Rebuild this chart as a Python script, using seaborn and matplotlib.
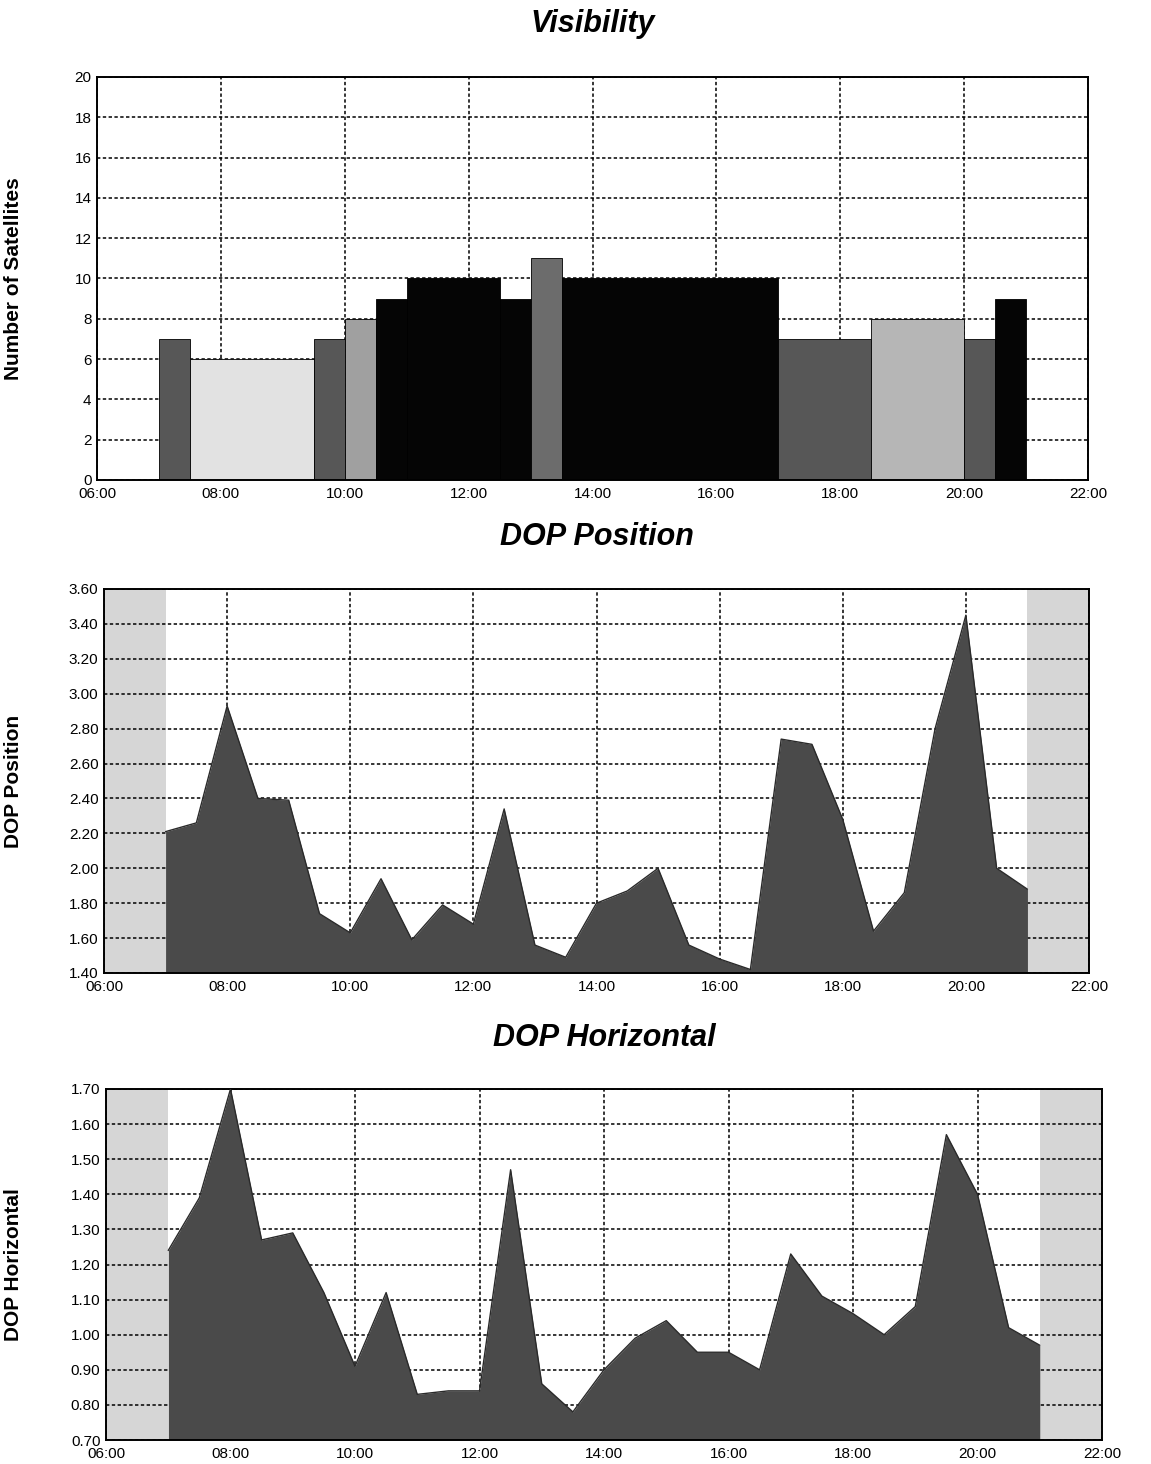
import numpy as np
import pandas as pd
import seaborn as sns
import matplotlib.pyplot as plt

# visibility: satellite count per interval (start, end in hours)
vis_start = [7.0, 7.5, 9.5, 10.0, 10.5, 11.0, 12.5, 13.0, 13.5, 17.0, 18.5, 20.0, 20.5]
vis_end = [7.5, 9.5, 10.0, 10.5, 11.0, 12.5, 13.0, 13.5, 17.0, 18.5, 20.0, 20.5, 21.0]
n_sats = [7, 6, 7, 8, 9, 10, 9, 11, 10, 7, 8, 7, 9]
bar_shades = ['#575757', '#e2e2e2', '#575757', '#a0a0a0', '#050505', '#050505', '#050505',
              '#6c6c6c', '#050505', '#575757', '#b6b6b6', '#575757', '#050505']

# DOP values every 30 min from 07:00 to 21:00
dop_time = [7.0, 7.5, 8.0, 8.5, 9.0, 9.5, 10.0, 10.5, 11.0, 11.5, 12.0, 12.5, 13.0, 13.5, 14.0,
            14.5, 15.0, 15.5, 16.0, 16.5, 17.0, 17.5, 18.0, 18.5, 19.0, 19.5, 20.0, 20.5, 21.0]
pdop = [2.21, 2.26, 2.93, 2.40, 2.39, 1.74, 1.63, 1.94, 1.59, 1.79, 1.68, 2.34, 1.56, 1.49, 1.80,
        1.87, 2.00, 1.56, 1.48, 1.42, 2.74, 2.71, 2.28, 1.64, 1.86, 2.80, 3.45, 2.00, 1.88]
hdop = [1.24, 1.39, 1.70, 1.27, 1.29, 1.12, 0.91, 1.12, 0.83, 0.84, 0.84, 1.47, 0.86, 0.78, 0.90,
        0.99, 1.04, 0.95, 0.95, 0.90, 1.23, 1.11, 1.06, 1.00, 1.08, 1.57, 1.40, 1.02, 0.97]

hour_ticks = [6, 8, 10, 12, 14, 16, 18, 20, 22]
hour_labels = ['06:00', '08:00', '10:00', '12:00', '14:00', '16:00', '18:00', '20:00', '22:00']
night = [(6.0, 7.0), (21.0, 22.0)]

df = pd.DataFrame({'time': dop_time, 'pdop': pdop, 'hdop': hdop})

sns.set_style('white')
plt.rcParams['font.family'] = ['Liberation Sans', 'DejaVu Sans']
plt.rcParams.update({'text.color': 'black', 'axes.labelcolor': 'black',
                     'xtick.color': 'black', 'ytick.color': 'black'})

fig = plt.figure(figsize=(11.51, 14.64), dpi=100)
W, H = 1151, 1464


def px_axes(l, t, r, b):
    return fig.add_axes([l / W, 1 - b / H, (r - l) / W, (b - t) / H])


def style(ax, title, ylabel, title_y, yticks, fmt):
    ax.set_xlim(6, 22)
    ax.set_xticks(hour_ticks)
    ax.set_xticklabels(hour_labels)
    ax.set_yticks(yticks)
    ax.set_yticklabels([fmt.format(v) for v in yticks])
    ax.set_ylim(yticks[0], yticks[-1])
    ax.tick_params(length=0, labelsize=11)
    ax.tick_params(axis='x', pad=5)
    ax.tick_params(axis='y', pad=4)
    ax.set_axisbelow(True)
    ax.grid(True, color='black', linestyle=(0, (2.2, 1.6)), linewidth=1.1)
    for s in ax.spines.values():
        s.set_color('black')
        s.set_linewidth(1.4)
    ax.set_xlabel('')
    ax.set_ylabel(ylabel, fontsize=15, fontweight='bold')
    pos = ax.get_position()
    ax.yaxis.set_label_coords((23 / W - pos.x0) / pos.width, 0.5)
    fig.text(0.5 * (pos.x0 + pos.x1), 1 - title_y / H, title, ha='center', va='center',
             fontsize=22, fontweight='bold', fontstyle='italic')


# Visibility
ax1 = px_axes(97, 77, 1088, 480)
widths = np.array(vis_end) - np.array(vis_start)
ax1.bar(vis_start, n_sats, width=widths, align='edge', color=bar_shades,
        edgecolor='black', linewidth=0.6, zorder=2)
style(ax1, 'Visibility', 'Number of Satellites', 24, list(range(0, 21, 2)), '{:d}')

# DOP Position
ax2 = px_axes(104, 589, 1089, 973)
for a, b in night:
    ax2.axvspan(a, b, color='#d6d6d6', zorder=0.2, linewidth=0)
ax2.fill_between(df['time'], 1.40, df['pdop'], color='#4a4a4a', zorder=2, linewidth=0)
sns.lineplot(data=df, x='time', y='pdop', ax=ax2, color='#2a2a2a', linewidth=1.0, zorder=3)
style(ax2, 'DOP Position', 'DOP Position', 537,
      [1.4, 1.6, 1.8, 2.0, 2.2, 2.4, 2.6, 2.8, 3.0, 3.2, 3.4, 3.6], '{:.2f}')

# DOP Horizontal
ax3 = px_axes(106, 1089, 1102, 1440)
for a, b in night:
    ax3.axvspan(a, b, color='#d6d6d6', zorder=0.2, linewidth=0)
ax3.fill_between(df['time'], 0.70, df['hdop'], color='#4a4a4a', zorder=2, linewidth=0)
sns.lineplot(data=df, x='time', y='hdop', ax=ax3, color='#2a2a2a', linewidth=1.0, zorder=3)
style(ax3, 'DOP Horizontal', 'DOP Horizontal', 1038,
      [0.7, 0.8, 0.9, 1.0, 1.1, 1.2, 1.3, 1.4, 1.5, 1.6, 1.7], '{:.2f}')

fig.savefig('out.png', dpi=100)
